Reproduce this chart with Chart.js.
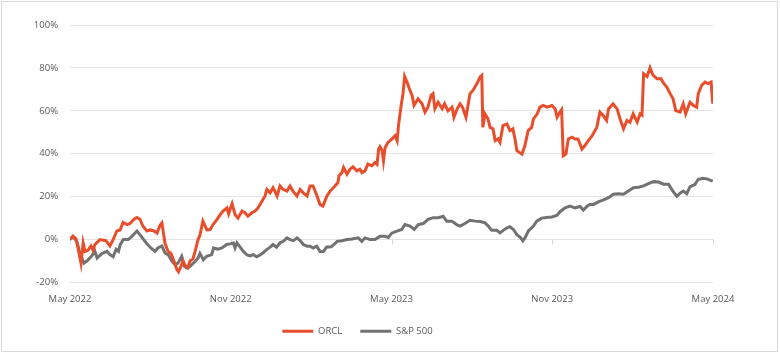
<!DOCTYPE html>
<html>
<head>
<meta charset="utf-8">
<script src="https://cdn.jsdelivr.net/npm/chart.js@4.4.1/dist/chart.umd.min.js"></script>
<style>
  html, body { margin: 0; padding: 0; background: #fff; }
  #frame {
    position: absolute; left: 1px; top: 1px;
    width: 777px; height: 351px;
    box-sizing: border-box; border: 1px solid #d9d9d9;
  }
  canvas { display: block; }
</style>
</head>
<body>
<div id="frame"><canvas id="chart" width="775" height="349"></canvas></div>
<script>
// x values are months since May 2022
const xLabels = ['May 2022', 'Nov 2022', 'May 2023', 'Nov 2023', 'May 2024'];

const orclMonths = [
  0.00, 0.11, 0.22, 0.30, 0.41, 0.49, 0.56, 0.67, 0.78, 0.86, 0.93, 1.12, 1.34, 1.49, 1.61, 1.75,
  1.87, 1.98, 2.13, 2.24, 2.39, 2.50, 2.61, 2.72, 2.87, 2.99, 3.14, 3.25, 3.36, 3.43, 3.55, 3.66,
  3.77, 3.88, 3.99, 4.05, 4.14, 4.22, 4.29, 4.40, 4.48, 4.59, 4.67, 4.78, 4.85, 4.96, 5.11, 5.23,
  5.34, 5.49, 5.60, 5.71, 5.86, 5.92, 6.05, 6.16, 6.27, 6.42, 6.53, 6.64, 6.79, 6.91, 7.02, 7.17,
  7.28, 7.35, 7.47, 7.58, 7.73, 7.84, 7.95, 8.10, 8.21, 8.32, 8.47, 8.59, 8.70, 8.85, 8.96, 9.07,
  9.22, 9.33, 9.44, 9.59, 9.71, 9.89, 10.00, 10.04, 10.15, 10.21, 10.34, 10.45, 10.56, 10.71, 10.82, 10.90,
  11.01, 11.12, 11.27, 11.38, 11.46, 11.52, 11.57, 11.65, 11.70, 11.76, 11.87, 12.02, 12.13, 12.21, 12.26, 12.36,
  12.43, 12.49, 12.58, 12.69, 12.77, 12.84, 12.99, 13.14, 13.25, 13.36, 13.48, 13.55, 13.62, 13.74, 13.89, 13.98,
  14.11, 14.26, 14.33, 14.45, 14.56, 14.65, 14.78, 14.93, 15.04, 15.19, 15.31, 15.37, 15.41, 15.49, 15.60, 15.68,
  15.79, 15.87, 15.98, 16.05, 16.16, 16.31, 16.42, 16.53, 16.61, 16.68, 16.87, 16.98, 17.10, 17.23, 17.30, 17.44,
  17.54, 17.66, 17.81, 17.99, 18.11, 18.18, 18.29, 18.35, 18.41, 18.51, 18.60, 18.74, 18.85, 18.96, 19.11, 19.22,
  19.34, 19.49, 19.66, 19.78, 19.90, 20.03, 20.10, 20.27, 20.42, 20.53, 20.66, 20.79, 20.90, 21.02, 21.17, 21.28,
  21.35, 21.41, 21.54, 21.65, 21.76, 21.91, 22.06, 22.15, 22.28, 22.40, 22.51, 22.61, 22.77, 22.89, 22.98, 23.14,
  23.27, 23.39, 23.45, 23.58, 23.70, 23.82, 23.93, 23.99
];
const orclValues = [
  0, 1.5, 0.5, -4, -11, -1.5, -5.5, -5, -3, -5, -2.3, 0, -0.5, -3, 0, 4,
  4.5, 8, 7, 7.5, 9.5, 10.3, 9.5, 6.3, 4, 4.5, 4, 3, 6.7, 7.8, -2, -5.5,
  -6.5, -10, -14, -15, -12.5, -10, -12, -13, -10, -9, -5.5, 0, 2, 8.6, 4.5, 4.7,
  7, 9.4, 11.5, 13.3, 14.8, 12, 16.7, 11.7, 10, 13.3, 12.5, 10.9, 12.5, 13.3, 14.8, 18,
  20.3, 23.4, 21.8, 24.2, 20.3, 25, 23.4, 22.6, 25, 22.6, 20.3, 23.4, 21.8, 20.3, 25, 25,
  20.3, 16.4, 15.6, 20.3, 22.6, 25, 26.6, 29.7, 31.2, 33.6, 30.5, 32.8, 33.9, 32, 32.8, 31.2,
  32, 35.2, 34.4, 35.9, 35, 42.2, 43.3, 41.4, 36.7, 42.8, 45.3, 46.9, 48.4, 46, 53.1, 62.5,
  68, 76.1, 73.4, 69.5, 67.2, 62.5, 65.6, 63.3, 59.4, 61.7, 67.2, 68, 61, 64, 61, 63.3,
  60, 61.7, 57, 60.9, 63.3, 61.7, 57, 68, 69.5, 72.7, 75.8, 76.5, 52.3, 58.6, 56.3, 52.3,
  51.6, 46.1, 46.9, 45.3, 53.1, 53.9, 50.8, 51.6, 46.9, 41.4, 39.8, 43.8, 50.8, 52.3, 56.3, 58.6,
  61.7, 62.5, 61.7, 62.5, 60.9, 57, 59.4, 60.5, 39, 39.8, 46.9, 47.7, 46.9, 46.9, 42.2, 43.8,
  46, 48.4, 52.3, 59.4, 57.8, 55.5, 60.9, 63.3, 60.9, 56.3, 51.6, 55.5, 54.7, 58.6, 54.7, 58.6,
  58, 77.3, 76, 80.1, 76.6, 75, 75, 73, 71, 68, 65.6, 60.1, 59.4, 63.3, 58.6, 64,
  62.5, 61.7, 68, 71.9, 73.4, 72.7, 73.4, 63.3
];

const spxMonths = [
  0.00, 0.11, 0.26, 0.37, 0.52, 0.63, 0.82, 0.93, 1.01, 1.19, 1.38, 1.49, 1.61, 1.72, 1.81, 1.87,
  1.99, 2.17, 2.31, 2.43, 2.50, 2.61, 2.72, 2.87, 3.02, 3.17, 3.28, 3.43, 3.55, 3.66, 3.81, 3.92,
  4.03, 4.17, 4.27, 4.37, 4.48, 4.67, 4.78, 4.85, 4.98, 5.10, 5.29, 5.36, 5.52, 5.67, 5.85, 5.97,
  6.10, 6.16, 6.23, 6.35, 6.47, 6.61, 6.72, 6.84, 6.97, 7.09, 7.22, 7.34, 7.47, 7.58, 7.71, 7.84,
  7.96, 8.10, 8.21, 8.34, 8.47, 8.59, 8.71, 8.85, 8.96, 9.08, 9.21, 9.33, 9.46, 9.58, 9.71, 9.78,
  9.97, 10.15, 10.34, 10.53, 10.76, 10.89, 11.01, 11.20, 11.38, 11.57, 11.76, 11.88, 12.01, 12.20, 12.38, 12.50,
  12.69, 12.85, 13.00, 13.19, 13.37, 13.56, 13.75, 13.93, 14.06, 14.25, 14.43, 14.56, 14.74, 14.93, 15.12, 15.31,
  15.49, 15.61, 15.74, 15.93, 16.05, 16.17, 16.31, 16.42, 16.55, 16.68, 16.80, 16.90, 16.98, 17.11, 17.30, 17.42,
  17.61, 17.79, 17.98, 18.17, 18.29, 18.48, 18.66, 18.85, 19.04, 19.16, 19.30, 19.41, 19.54, 19.72, 19.91, 20.10,
  20.28, 20.47, 20.66, 20.84, 21.03, 21.22, 21.41, 21.59, 21.78, 21.97, 22.15, 22.34, 22.46, 22.59, 22.65, 22.77,
  22.89, 23.02, 23.14, 23.33, 23.45, 23.64, 23.77, 23.89, 23.99
];
const spxValues = [
  0, 1.5, -1, -6.5, -11, -10, -7.5, -5.5, -8.6, -6.5, -5.5, -7, -8, -4.5, -5.5, -2.5,
  0, 0, 1.5, 3.1, 4, 2.3, 0.5, -2, -3.9, -5.5, -3.9, -3, -6.3, -7, -10.2, -11.7,
  -11, -7.8, -12.5, -13.3, -12.5, -10.2, -8.6, -6.5, -9.4, -7.8, -7, -3.9, -4.5, -3.9, -2.3, -2,
  -1.6, -3.9, -1.5, -3.5, -5.5, -7.2, -7.6, -7, -8, -7.2, -6, -4.7, -3.5, -2.3, -3.5, -1.5,
  -0.8, 0.8, 0, -0.5, 0.8, -0.5, -2.3, -3.1, -3.1, -3.9, -3.1, -5.5, -5.5, -3.5, -3.5, -3.1,
  -0.8, -0.5, 0, 0.3, 0.8, -0.8, 0.8, 0, 0, 1.5, 1.5, 1, 3, 3.9, 4.7, 7,
  6.3, 4.7, 7, 7.5, 9.4, 10.2, 10.2, 10.9, 8.6, 8.6, 7, 6.3, 7.5, 9, 8.6, 8.4,
  7.8, 6.3, 4.3, 4.3, 3.1, 4.3, 5.5, 6, 4.7, 2.3, 1.2, -0.6, 0.8, 4, 6.3, 8.6,
  10, 10.3, 10.5, 11.2, 13, 14.8, 15.6, 14.8, 15.4, 13.8, 15.6, 16.4, 16.4, 17.6, 18.5, 19.5,
  21.1, 21.4, 21.1, 22.6, 24.2, 24.4, 25, 26.1, 27, 26.8, 25.8, 25.8, 23.4, 21.1, 20.2, 21.6,
  22.6, 21.4, 24.6, 25.8, 28.1, 28.6, 28.3, 27.7, 27.2
];

const toPoints = (xs, ys) => xs.map((x, i) => ({ x: x, y: ys[i] }));

const textColor = '#595959';
const gridColor = '#e3e3e3';
const baseFont = { family: '"Open Sans", sans-serif', size: 9.5 };

// small tick marks hanging under the 0% line, like the original axis
const zeroAxisTicks = {
  id: 'zeroAxisTicks',
  beforeDatasetsDraw(chart) {
    const { ctx, scales } = chart;
    const y0 = scales.y.getPixelForValue(0);
    ctx.save();
    ctx.strokeStyle = '#d9d9d9';
    ctx.lineWidth = 1;
    scales.x.ticks.forEach(t => {
      const x = Math.round(scales.x.getPixelForValue(t.value)) + 0.5;
      ctx.beginPath();
      ctx.moveTo(x, y0);
      ctx.lineTo(x, y0 + 5);
      ctx.stroke();
    });
    ctx.restore();
  }
};

new Chart(document.getElementById('chart'), {
  type: 'line',
  data: {
    datasets: [
      {
        label: 'ORCL',
        data: toPoints(orclMonths, orclValues),
        borderColor: '#E84E2C',
        backgroundColor: '#E84E2C',
        borderWidth: 3,
        pointRadius: 0,
        tension: 0,
        fill: false
      },
      {
        label: 'S&P 500',
        data: toPoints(spxMonths, spxValues),
        borderColor: '#727272',
        backgroundColor: '#727272',
        borderWidth: 3,
        pointRadius: 0,
        tension: 0,
        fill: false
      }
    ]
  },
  options: {
    responsive: false,
    animation: false,
    devicePixelRatio: 1,
    layout: { padding: { left: 0, right: 64, top: 23, bottom: 5 } },
    plugins: {
      legend: {
        position: 'bottom',
        labels: {
          boxWidth: 31,
          boxHeight: 3,
          padding: 18,
          color: textColor,
          font: baseFont,
          generateLabels: chart =>
            Chart.defaults.plugins.legend.labels.generateLabels(chart)
              .map(l => ({ ...l, lineWidth: 0 }))
        }
      },
      tooltip: { enabled: false }
    },
    scales: {
      x: {
        type: 'linear',
        min: 0,
        max: 24,
        grid: { display: false, drawTicks: false },
        border: { display: false },
        ticks: {
          stepSize: 6,
          autoSkip: false,
          maxRotation: 0,
          padding: 11,
          color: textColor,
          font: baseFont,
          callback: v => xLabels[v / 6]
        },
        afterFit: axis => { axis.height = 26; }
      },
      y: {
        min: -20,
        max: 100,
        grid: { color: gridColor, drawTicks: false },
        border: { display: false },
        ticks: {
          stepSize: 20,
          padding: 12,
          color: textColor,
          font: baseFont,
          callback: v => v + '%'
        },
        afterFit: axis => { axis.width = 68; }
      }
    }
  },
  plugins: [zeroAxisTicks]
});
</script>
</body>
</html>
